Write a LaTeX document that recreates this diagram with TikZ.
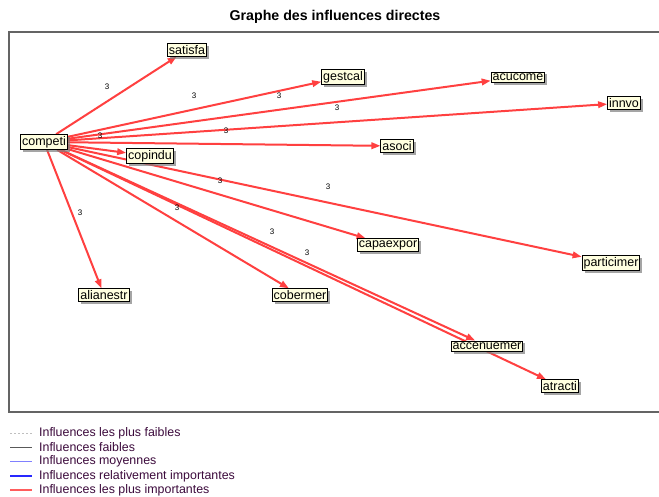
\documentclass[tikz,border=0pt]{standalone}
\usepackage{fontspec}
\setmainfont{Liberation Sans}
\usetikzlibrary{arrows.meta,shadows,backgrounds}
\definecolor{edgered}{RGB}{255,64,64}
\definecolor{nodefill}{RGB}{255,255,224}
\definecolor{framegray}{RGB}{100,100,100}
\definecolor{legtext}{RGB}{60,10,60}
\definecolor{midblue}{RGB}{128,128,255}
\definecolor{strongblue}{RGB}{40,40,255}
\tikzset{
  vbox/.style={draw=black, line width=0.9pt, fill=nodefill, inner xsep=1.5pt, inner ysep=1.6pt,
    font=\fontsize{12.5}{12.5}\selectfont,
    drop shadow={shadow xshift=2.5pt, shadow yshift=-2.5pt, fill=black!50, opacity=0.7}},
  infl/.style={draw=edgered, line width=2pt, -{Triangle[length=9pt,width=6.5pt]}},
  wlab/.style={font=\fontsize{8}{8}\selectfont, inner sep=0pt},
  legtxt/.style={anchor=west, inner sep=0pt, text=legtext, font=\fontsize{12.4}{12.4}\selectfont},
}
\begin{document}
\begin{tikzpicture}[x=1pt,y=-1pt]
\useasboundingbox (0,0) rectangle (659,497);
% title
\node[font=\fontsize{14.2}{14.2}\selectfont\bfseries] (title) at (335,17) {Graphe des influences directes};
% nodes
\node[vbox] (competi) at (44,142) {competi};
\node[vbox] (satisfa) at (187,50) {satisfa};
\node[vbox] (gestcal) at (343,77) {gestcal};
\node[vbox] (acucome) at (518,77) {acucome};
\node[vbox] (innvo) at (624,103) {innvo};
\node[vbox] (asoci) at (397,146) {asoci};
\node[vbox] (copindu) at (150,156) {copindu};
\node[vbox] (capaexpor) at (388,245) {capaexpor};
\node[vbox] (particimer) at (611,263) {particimer};
\node[vbox] (alianestr) at (104,295) {alianestr};
\node[vbox] (cobermer) at (300,295) {cobermer};
\node[vbox] (accenuemer) at (487,346) {accenuemer};
\node[vbox] (atracti) at (560,386) {atracti};
% background: page, frame, connectors
\begin{scope}[on background layer]
  \fill[white] (0,0) rectangle (659,497);
  \coordinate (fa) at (659,32);
  \coordinate (fb) at (9,32);
  \coordinate (fc) at (9,412);
  \coordinate (fd) at (659,412);
  \draw[framegray, line width=1.6pt] (fa) -- (fb) -- (fc) -- (fd);
  \draw[infl] (competi) -- (satisfa);
  \draw[infl] (competi) -- (gestcal);
  \draw[infl] (competi) -- (acucome);
  \draw[infl] (competi) -- (innvo);
  \draw[infl] (competi) -- (asoci);
  \draw[infl] (competi) -- (copindu);
  \draw[infl] (competi) -- (capaexpor);
  \draw[infl] (competi) -- (particimer);
  \draw[infl] (competi) -- (alianestr);
  \draw[infl] (competi) -- (cobermer);
  \draw[infl] (competi) -- (accenuemer);
  \draw[infl] (competi) -- (atracti);
\end{scope}
% weight labels
\node[wlab] (w1) at (107,87) {3};
\node[wlab] (w2) at (194,96) {3};
\node[wlab] (w3) at (279,96) {3};
\node[wlab] (w4) at (337,108) {3};
\node[wlab] (w5) at (100,136) {3};
\node[wlab] (w6) at (226,131) {3};
\node[wlab] (w7) at (220,181) {3};
\node[wlab] (w8) at (328,187) {3};
\node[wlab] (w9) at (177,208) {3};
\node[wlab] (w10) at (80,213) {3};
\node[wlab] (w11) at (272,232) {3};
\node[wlab] (w12) at (307,253) {3};
% legend
\coordinate (k1) at (10,433);
\coordinate (k2) at (10,447);
\coordinate (k3) at (10,461);
\coordinate (k4) at (10,476);
\coordinate (k5) at (10,490);
\draw[black!25, line width=0.8pt, dash pattern=on 2pt off 2pt] (k1) -- ++(22,0);
\draw[black!65, line width=0.8pt] (k2) -- ++(22,0);
\draw[midblue, line width=1pt] (k3) -- ++(22,0);
\draw[strongblue, line width=2pt] (k4) -- ++(22,0);
\draw[edgered!85!white, line width=2pt] (k5) -- ++(22,0);
\node[legtxt] (l1) at (39,433) {Influences les plus faibles};
\node[legtxt] (l2) at (39,447) {Influences faibles};
\node[legtxt] (l3) at (39,461) {Influences moyennes};
\node[legtxt] (l4) at (39,476) {Influences relativement importantes};
\node[legtxt] (l5) at (39,490) {Influences les plus importantes};
\end{tikzpicture}
\end{document}
